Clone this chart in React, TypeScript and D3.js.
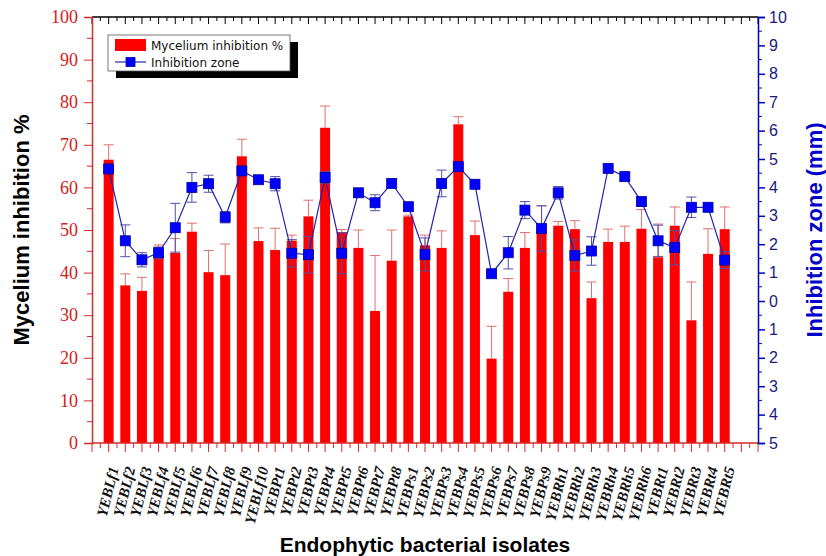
import React, { useEffect, useRef } from 'react';
import * as d3 from 'd3';

const isolates = [
  'YEBLf1', 'YEBLf2', 'YEBLf3', 'YEBLf4', 'YEBLf5', 'YEBLf6', 'YEBLf7', 'YEBLf8', 'YEBLf9', 'YEBLf10',
  'YEBPt1', 'YEBPt2', 'YEBPt3', 'YEBPt4', 'YEBPt5', 'YEBPt6', 'YEBPt7', 'YEBPt8',
  'YEBPs1', 'YEBPs2', 'YEBPs3', 'YEBPs4', 'YEBPs5', 'YEBPs6', 'YEBPs7', 'YEBPs8', 'YEBPs9',
  'YEBRh1', 'YEBRh2', 'YEBRh3', 'YEBRh4', 'YEBRh5', 'YEBRh6',
  'YEBRt1', 'YEBRt2', 'YEBRt3', 'YEBRt4', 'YEBRt5',
];

// mycelium inhibition % and its error (upper part only visible)
const mycelium = [
  66.5, 37, 35.7, 43.8, 44.6, 49.6, 40.1, 39.4, 67.3, 47.4,
  45.3, 47.5, 53.2, 74, 49.5, 45.8, 31, 42.8,
  53.2, 46.4, 45.8, 74.8, 48.8, 19.8, 35.5, 45.8, 50,
  51, 50.2, 34, 47.2, 47.2, 50.3,
  43.6, 51, 28.8, 44.4, 50.2,
];
const myceliumErr = [
  3.5, 2.7, 3.2, 2.7, 3.4, 2, 5.1, 7.3, 4, 3.1,
  5.1, 1.3, 3.8, 5.1, 0.6, 4.2, 13, 7.2,
  0.3, 2.4, 4, 1.8, 3.3, 7.6, 3.1, 3.6, 5.7,
  1, 2, 3.8, 3, 3.7, 4.5,
  7.8, 4.4, 9, 5.9, 5.2,
];

// inhibition zone (mm) and its error
const zone = [
  4.65, 2.12, 1.45, 1.7, 2.58, 4.0, 4.13, 2.95, 4.58, 4.27,
  4.13, 1.68, 1.63, 4.35, 1.68, 3.81, 3.46, 4.14,
  3.32, 1.64, 4.14, 4.73, 4.11, 0.96, 1.7, 3.2, 2.55,
  3.81, 1.6, 1.76, 4.67, 4.38, 3.5,
  2.12, 1.88, 3.3, 3.3, 1.44,
];
const zoneErr = [
  0.12, 0.56, 0.25, 0.2, 0.86, 0.52, 0.3, 0.2, 0.1, 0.08,
  0.25, 0.48, 0.65, 0.2, 0.72, 0.05, 0.28, 0.15,
  0.1, 0.58, 0.47, 0.1, 0.15, 0.04, 0.57, 0.3, 0.8,
  0.22, 0.55, 0.5, 0.05, 0.1, 0.15,
  0.55, 0.6, 0.36, 0.04, 0.3,
];

const leftTicks = [0, 10, 20, 30, 40, 50, 60, 70, 80, 90, 100];
const rightTicks = [-5, -4, -3, -2, -1, 0, 1, 2, 3, 4, 5, 6, 7, 8, 9, 10];

const App = () => {
  const ref = useRef<SVGSVGElement>(null);

  useEffect(() => {
    const svg = d3.select(ref.current);
    svg.selectAll('*').remove();

    const left = 92, right = 758, top = 17, bottom = 443;
    const red = '#ff0000';
    const axisRed = '#d42a2a';
    const blue = '#0000ff';
    const navy = '#2222b0';

    const x = d3.scaleLinear().domain([0, isolates.length + 2]).range([left, right]);
    const yL = d3.scaleLinear().domain([0, 100]).range([bottom, top]);
    const yR = d3.scaleLinear().domain([-5, 10]).range([bottom, top]);
    const barW = 10;

    // bar error bars (behind bars)
    const be = svg.append('g').attr('stroke', '#e07070').attr('stroke-width', 1);
    mycelium.forEach((v, i) => {
      const cx = x(i + 1);
      const yt = yL(v + myceliumErr[i]);
      be.append('line').attr('x1', cx).attr('x2', cx).attr('y1', yL(v)).attr('y2', yt);
      be.append('line').attr('x1', cx - 5).attr('x2', cx + 5).attr('y1', yt).attr('y2', yt);
    });

    svg.append('g')
      .selectAll('rect')
      .data(mycelium)
      .enter()
      .append('rect')
      .attr('x', (d, i) => x(i + 1) - barW / 2)
      .attr('width', barW)
      .attr('y', (d) => yL(d))
      .attr('height', (d) => yL(0) - yL(d))
      .attr('fill', red);

    // zone error bars
    const ze = svg.append('g').attr('stroke', '#5050a8').attr('stroke-width', 1);
    zone.forEach((v, i) => {
      const cx = x(i + 1);
      const y1 = yR(v + zoneErr[i]);
      const y2 = yR(v - zoneErr[i]);
      ze.append('line').attr('x1', cx).attr('x2', cx).attr('y1', y1).attr('y2', y2);
      ze.append('line').attr('x1', cx - 5).attr('x2', cx + 5).attr('y1', y1).attr('y2', y1);
      ze.append('line').attr('x1', cx - 5).attr('x2', cx + 5).attr('y1', y2).attr('y2', y2);
    });

    const line = d3.line<number>().x((d, i) => x(i + 1)).y((d) => yR(d));
    svg.append('path').datum(zone).attr('d', line).attr('fill', 'none').attr('stroke', navy).attr('stroke-width', 1.2);

    svg.append('g')
      .selectAll('rect')
      .data(zone)
      .enter()
      .append('rect')
      .attr('x', (d, i) => x(i + 1) - 5)
      .attr('y', (d) => yR(d) - 5)
      .attr('width', 10)
      .attr('height', 10)
      .attr('fill', blue)
      .attr('stroke', '#0000a0')
      .attr('stroke-width', 0.8);

    // top axis
    const xMajor = d3.range(0, isolates.length + 3);
    const xMinor = d3.range(0.5, isolates.length + 2, 1);
    const gTop = svg.append('g').attr('stroke', '#000').attr('stroke-width', 1);
    gTop.append('line').attr('x1', left).attr('x2', right).attr('y1', top).attr('y2', top).attr('stroke-width', 1.5);
    xMajor.forEach((t) => gTop.append('line').attr('x1', x(t)).attr('x2', x(t)).attr('y1', top).attr('y2', top + 7));
    xMinor.forEach((t) => gTop.append('line').attr('x1', x(t)).attr('x2', x(t)).attr('y1', top).attr('y2', top + 4));

    // bottom axis
    const gBot = svg.append('g').attr('stroke', axisRed).attr('stroke-width', 1);
    gBot.append('line').attr('x1', left).attr('x2', right).attr('y1', bottom).attr('y2', bottom).attr('stroke-width', 1.5);
    xMajor.forEach((t) => gBot.append('line').attr('x1', x(t)).attr('x2', x(t)).attr('y1', bottom).attr('y2', bottom + 9));
    xMinor.forEach((t) => gBot.append('line').attr('x1', x(t)).attr('x2', x(t)).attr('y1', bottom).attr('y2', bottom + 5));

    // left axis
    const gL = svg.append('g').attr('transform', `translate(${left},0)`);
    gL.call(d3.axisLeft(yL).tickValues(leftTicks).tickSize(8).tickPadding(6));
    gL.call((g) => g.append('g').selectAll('line').data(d3.range(5, 100, 10)).enter().append('line')
      .attr('x1', 0).attr('x2', -5).attr('y1', (d) => yL(d)).attr('y2', (d) => yL(d)).attr('stroke', axisRed));
    gL.select('.domain').attr('stroke', axisRed).attr('stroke-width', 1.5);
    gL.selectAll('.tick line').attr('stroke', axisRed);
    gL.selectAll('.tick text')
      .attr('fill', '#d42020')
      .style('font-family', '"Liberation Serif", "Times New Roman", serif')
      .style('font-size', '18px');

    // right axis
    const gR = svg.append('g').attr('transform', `translate(${right},0)`);
    gR.call(d3.axisRight(yR).tickValues(rightTicks).tickSize(7).tickPadding(4).tickFormat((d) => String(Math.abs(+d))));
    gR.call((g) => g.append('g').selectAll('line').data(d3.range(-4.5, 10, 1)).enter().append('line')
      .attr('x1', 0).attr('x2', 4).attr('y1', (d) => yR(d)).attr('y2', (d) => yR(d)).attr('stroke', '#0000c0'));
    gR.select('.domain').attr('stroke', '#0000c0').attr('stroke-width', 1.5);
    gR.selectAll('.tick line').attr('stroke', '#0000c0').attr('stroke-width', 1.5);
    gR.selectAll('.tick text')
      .attr('fill', '#1a1a80')
      .style('font-family', 'Arial, "Liberation Sans", sans-serif')
      .style('font-size', '16px');

    // category labels
    svg.append('g')
      .selectAll('text')
      .data(isolates)
      .enter()
      .append('text')
      .attr('transform', (d, i) => `translate(${x(i + 1) + 5},${bottom + 24}) rotate(-76)`)
      .attr('text-anchor', 'end')
      .attr('dy', '0.35em')
      .style('font-family', '"Liberation Serif", "Times New Roman", serif')
      .style('font-style', 'italic')
      .style('font-weight', 'bold')
      .style('font-size', '15px')
      .attr('fill', '#111')
      .text((d) => d);

    // titles
    const titleFont = 'Arial, "Liberation Sans", sans-serif';
    svg.append('text')
      .attr('transform', `translate(29,${(top + bottom) / 2}) rotate(-90)`)
      .attr('text-anchor', 'middle')
      .style('font-family', titleFont).style('font-weight', 'bold').style('font-size', '22px')
      .attr('fill', '#000')
      .text('Mycelium inhibition %');
    svg.append('text')
      .attr('transform', `translate(822,${(top + bottom) / 2}) rotate(-90)`)
      .attr('text-anchor', 'middle')
      .style('font-family', titleFont).style('font-weight', 'bold').style('font-size', '22px')
      .attr('fill', '#0000c8')
      .text('Inhibition zone (mm)');
    svg.append('text')
      .attr('x', (left + right) / 2)
      .attr('y', 552)
      .attr('text-anchor', 'middle')
      .style('font-family', titleFont).style('font-weight', 'bold').style('font-size', '21px')
      .attr('fill', '#000')
      .text('Endophytic bacterial isolates');

    // legend
    const lg = svg.append('g').attr('transform', 'translate(108,35)');
    lg.append('rect').attr('x', 8).attr('y', 7).attr('width', 182).attr('height', 36).attr('fill', '#000');
    lg.append('rect').attr('x', 0).attr('y', 0).attr('width', 182).attr('height', 36).attr('fill', '#fff').attr('stroke', '#555').attr('stroke-width', 0.8);
    lg.append('rect').attr('x', 7).attr('y', 4).attr('width', 31).attr('height', 12).attr('fill', red);
    lg.append('line').attr('x1', 7).attr('x2', 38).attr('y1', 27).attr('y2', 27).attr('stroke', navy).attr('stroke-width', 1.2);
    lg.append('rect').attr('x', 18).attr('y', 22.5).attr('width', 9).attr('height', 9).attr('fill', blue).attr('stroke', '#0000a0').attr('stroke-width', 0.8);
    const legendText = ['Mycelium inhibition %', 'Inhibition zone'];
    lg.selectAll('text.lt').data(legendText).enter().append('text')
      .attr('x', 43).attr('y', (d, i) => 14.5 + i * 17)
      .style('font-family', '"DejaVu Sans", Verdana, sans-serif').style('font-size', '12px')
      .attr('fill', '#111')
      .text((d) => d);
  }, []);

  return (
    <svg ref={ref} width={826} height={556} style={{ position: 'absolute', left: 0, top: 0, background: '#fff' }} />
  );
};

export default App;
